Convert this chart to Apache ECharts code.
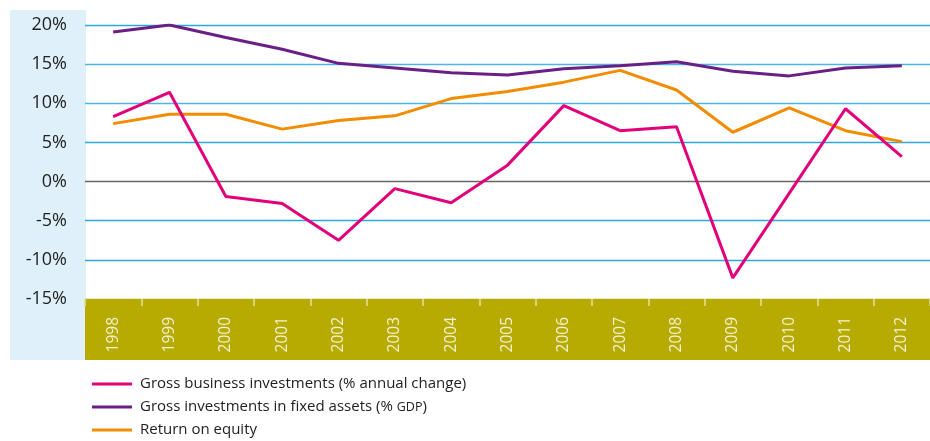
<!DOCTYPE html>
<html>
<head>
<meta charset="utf-8">
<script src="https://cdn.jsdelivr.net/npm/echarts@6/dist/echarts.min.js"></script>
<style>
html,body{margin:0;padding:0;background:#fff;}
#chart{width:930px;height:441px;}
</style>
</head>
<body>
<div id="chart"></div>
<script>
var years = ['1998','1999','2000','2001','2002','2003','2004','2005','2006','2007','2008','2009','2010','2011','2012'];
var businessInvest = [8.3, 11.4, -1.9, -2.8, -7.5, -0.9, -2.7, 2.1, 9.7, 6.5, 7.0, -12.3, -1.5, 9.3, 3.2];
var fixedAssets = [19.1, 20.0, 18.4, 16.9, 15.1, 14.5, 13.9, 13.6, 14.4, 14.8, 15.3, 14.1, 13.5, 14.5, 14.8];
var returnEquity = [7.4, 8.6, 8.6, 6.7, 7.8, 8.4, 10.6, 11.5, 12.7, 14.2, 11.7, 6.3, 9.4, 6.5, 5.1];
var seriesNames = ['Gross business investments (% annual change)', 'Gross investments in fixed assets (% GDP)', 'Return on equity'];

var FONT = '"Open Sans", "Noto Sans", sans-serif';
var chart = echarts.init(document.getElementById('chart'), null, {renderer: 'canvas'});
var gridLeft = 85, gridTop = 25, gridBottom = 142;

chart.setOption({
  backgroundColor: '#ffffff',
  animation: false,
  graphic: [
    {type: 'rect', z: -10, silent: true, shape: {x: 10, y: 10, width: 76, height: 350}, style: {fill: '#dff0fa'}},
    {type: 'rect', z: -10, silent: true, shape: {x: 85, y: 299, width: 845, height: 61}, style: {fill: '#b7aa00'}}
  ],
  grid: {left: gridLeft, right: 0, top: gridTop, bottom: gridBottom, containLabel: false},
  legend: {
    orient: 'vertical',
    left: 87, top: 370,
    height: 140,
    itemWidth: 40, itemHeight: 3,
    itemGap: 5,
    icon: 'rect',
    data: seriesNames,
    formatter: function (n) {
      return n.replace('GDP', '{sc|GDP}');
    },
    textStyle: {
      fontFamily: FONT, fontSize: 15, color: '#222', lineHeight: 18,
      padding: [0, 0, 0, 3],
      rich: {sc: {fontFamily: FONT, fontSize: 12.5, color: '#222', lineHeight: 18}}
    }
  },
  xAxis: {
    type: 'category',
    data: years,
    boundaryGap: true,
    axisLine: {show: false, onZero: false},
    axisTick: {show: true, inside: false, length: 7, lineStyle: {color: '#e4e0a0', width: 1.5}},
    axisLabel: {
      rotate: 90, margin: 18, color: '#f4f1cf',
      fontFamily: FONT, fontSize: 15.5
    },
    splitLine: {show: false}
  },
  yAxis: {
    type: 'value',
    min: -15, max: 20, interval: 5,
    axisLine: {show: false},
    axisTick: {show: false},
    axisLabel: {
      formatter: '{value}%', margin: 18, color: '#222',
      fontFamily: FONT, fontSize: 18
    },
    splitLine: {
      show: true,
      lineStyle: {
        color: ['#b7aa00', '#29a8e0', '#29a8e0', '#666666', '#29a8e0', '#4db6e6', '#4db6e6', '#29a8e0'],
        width: 1.3
      }
    }
  },
  series: [
    {name: seriesNames[0], type: 'line', data: businessInvest, symbol: 'none', z: 3,
     lineStyle: {color: '#e2007a', width: 3}, itemStyle: {color: '#e2007a'}},
    {name: seriesNames[1], type: 'line', data: fixedAssets, symbol: 'none', z: 3,
     lineStyle: {color: '#6a1f86', width: 3}, itemStyle: {color: '#6a1f86'}},
    {name: seriesNames[2], type: 'line', data: returnEquity, symbol: 'none', z: 2,
     lineStyle: {color: '#f28c00', width: 3}, itemStyle: {color: '#f28c00'}}
  ]
});
</script>
</body>
</html>
